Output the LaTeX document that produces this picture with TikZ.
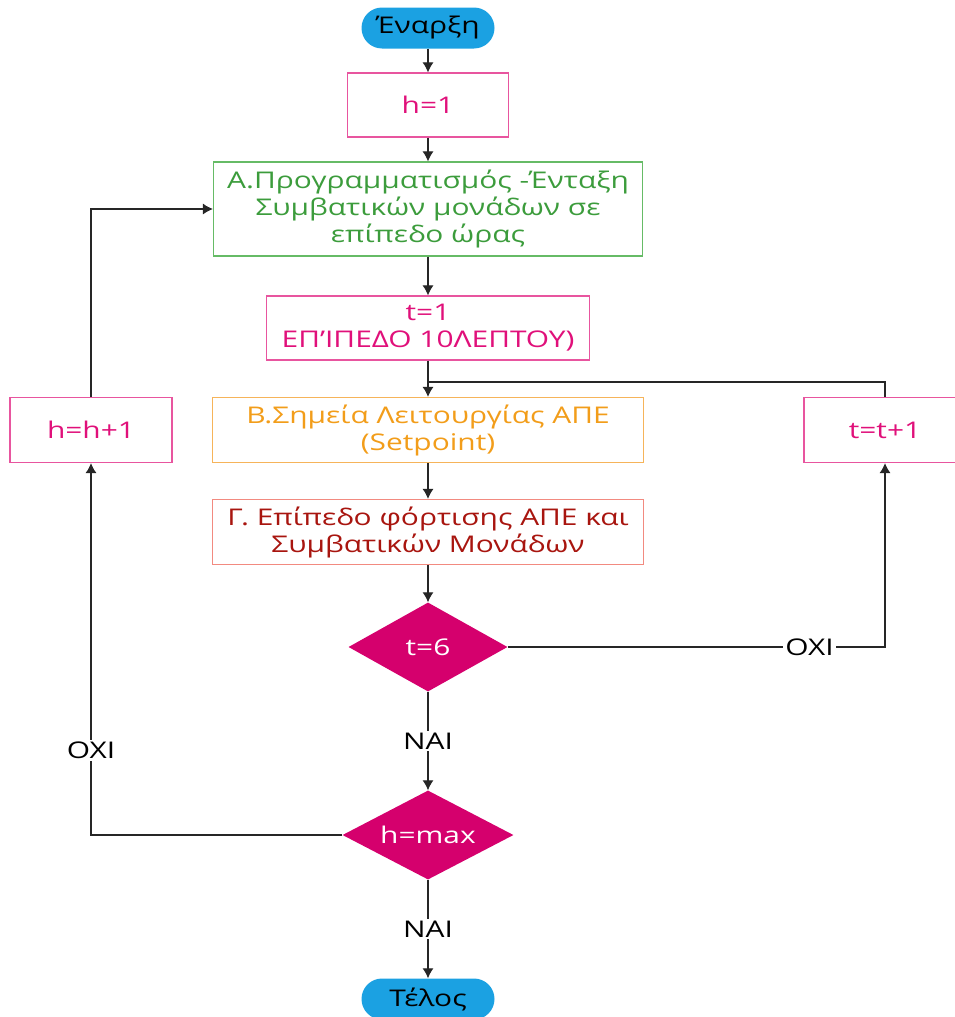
\documentclass[tikz,border=0pt]{standalone}
\usepackage{fontspec}
\setmainfont{Open Sans}[FakeStretch=1.3]
\usetikzlibrary{shapes.geometric,arrows.meta}
\definecolor{pillblue}{HTML}{1BA1E2}
\definecolor{hpink}{HTML}{E0107A}
\definecolor{hpinkline}{HTML}{E8559F}
\definecolor{agreen}{HTML}{3C9C3C}
\definecolor{agreenline}{HTML}{66BB66}
\definecolor{borange}{HTML}{F29D1A}
\definecolor{borangeline}{HTML}{F6B45A}
\definecolor{gred}{HTML}{A8150F}
\definecolor{gredline}{HTML}{F28A80}
\definecolor{diafill}{HTML}{D5006D}
\tikzstyle{txt}=[font=\fontsize{23}{27}\selectfont,align=center,inner sep=0pt]
\tikzstyle{term}=[txt,rectangle,rounded corners=20.5pt,fill=pillblue,minimum width=133,minimum height=41]
\tikzstyle{box}=[txt,rectangle,draw,line width=1.2pt]
\tikzstyle{pinkbox}=[box,draw=hpinkline,text=hpink]
\tikzstyle{cond}=[txt,diamond,aspect=1.9,fill=diafill,text=white]
\tikzstyle{arr}=[-{Latex[length=10pt,width=11pt]},line width=1.1pt,draw=black!85]
\tikzstyle{lne}=[line width=1.1pt,draw=black!85]
\tikzstyle{lbl}=[txt,fill=white,inner sep=2pt]

\begin{document}
\begin{tikzpicture}[x=1pt,y=-1pt]
\useasboundingbox (0,0) rectangle (955,1017);
\node[term] (start) at (428,28) {Έναρξη};
\node[pinkbox,minimum width=161,minimum height=64] (h1) at (428,105) {h=1};
\node[box,draw=agreenline,text=agreen,minimum width=429,minimum height=94] (A) at (428,209) {A.Προγραμματισμός -Ένταξη\\Συμβατικών μονάδων σε\\επίπεδο ώρας};
\node[pinkbox,minimum width=323,minimum height=64] (t1) at (428,328) {t=1\\ΕΠ'ΙΠΕΔΟ 10ΛΕΠΤΟΥ)};
\node[box,draw=borangeline,text=borange,minimum width=431,minimum height=65] (B) at (428,430) {B.Σημεία Λειτουργίας ΑΠΕ\\(Setpoint)};
\node[pinkbox,minimum width=162,minimum height=65] (hh) at (91,430) {h=h+1};
\node[pinkbox,minimum width=162,minimum height=65] (tt) at (885,430) {t=t+1};
\node[box,draw=gredline,text=gred,minimum width=431,minimum height=65] (G) at (428,532) {Γ. Επίπεδο φόρτισης ΑΠΕ και\\Συμβατικών Μονάδων};
\node[cond,minimum width=159,minimum height=89] (t6) at (428,647) {t=6};
\node[cond,minimum width=171,minimum height=89] (hmax) at (428,835) {h=max};
\node[term] (end) at (428,999) {Τέλος};
\coordinate (j) at (428,382);

\draw[arr] (start) -- (h1);
\draw[arr] (h1) -- (A);
\draw[arr] (A) -- (t1);
\draw[arr] (t1) -- (B);
\draw[arr] (B) -- (G);
\draw[arr] (G) -- (t6);
\draw[arr] (t6) -- node[lbl] {NAI} (hmax);
\draw[arr] (hmax) -- node[lbl] {NAI} (end);
\draw[arr] (t6.east) -| node[lbl,pos=0.4] {OXI} (tt.south);
\draw[lne] (tt.north) |- (j);
\draw[arr] (hmax.west) -| node[lbl,pos=0.614] {OXI} (hh.south);
\draw[arr] (hh.north) |- (A.west);
\end{tikzpicture}
\end{document}
